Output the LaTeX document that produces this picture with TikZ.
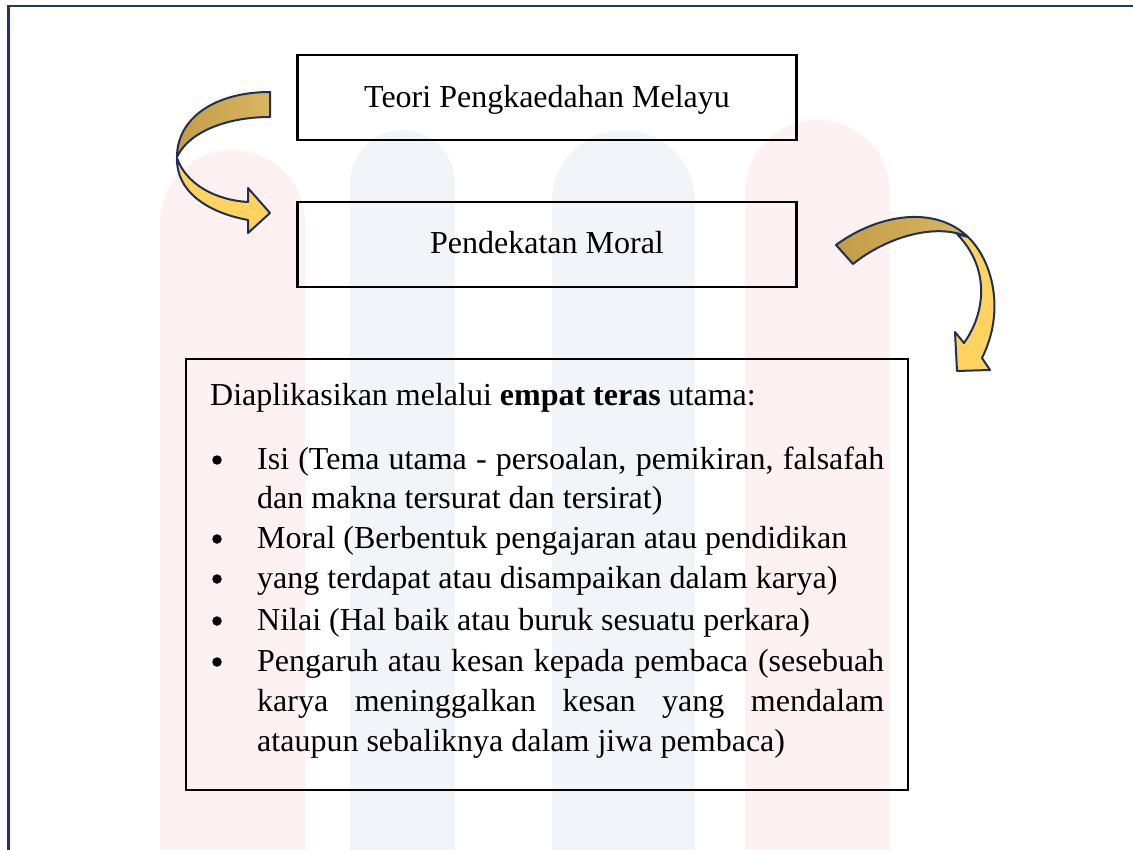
\documentclass[tikz,border=0pt]{standalone}
\usepackage{fontspec}
\setmainfont{Liberation Serif}
\definecolor{frameblue}{HTML}{1F3864}
\definecolor{arrowline}{HTML}{1F2F55}
\definecolor{goldlight}{HTML}{FFD35E}
\definecolor{golddark}{HTML}{C49C48}
\definecolor{golddarkB}{HTML}{D8B65F}
\definecolor{wmpink}{HTML}{FDF1F2}
\definecolor{wmblue}{HTML}{F1F5F9}
\begin{document}
\begin{tikzpicture}[x=1pt,y=-1pt,
  box/.style={draw=black, line width=2.2pt, inner sep=0pt},
  txt/.style={inner sep=0pt, font=\fontsize{32}{40}\selectfont},
  dot/.style={circle, fill=black, inner sep=0pt, minimum size=9.5pt},
  arrline/.style={draw=arrowline, line width=2pt, line join=round}]
\useasboundingbox (0,0) rectangle (1133,850);
% watermark
\fill[wmpink] (160,850) -- (160,222.5) arc[start angle=180,end angle=360,radius=72.5] -- (305,850) -- cycle;
\fill[wmpink] (745,850) -- (745,192.5) arc[start angle=180,end angle=360,radius=72.5] -- (890,850) -- cycle;
\fill[wmblue] (350,850) -- (350,182.5) arc[start angle=180,end angle=360,radius=52.5] -- (455,850) -- cycle;
\fill[wmblue] (552,850) -- (552,201.5) arc[start angle=180,end angle=360,radius=71.5] -- (695,850) -- cycle;
% outer frame
\draw[frameblue, line width=2.6pt] (8.7,850) -- (8.7,6.2) -- (1133,6.2);
% boxes
\node[box, minimum width=499pt, minimum height=85pt] (b1) at (547,97.5) {};
\node[box, minimum width=499pt, minimum height=85pt] (b2) at (547,244.5) {};
\node[box, minimum width=722pt, minimum height=431pt] (b3) at (547,574.5) {};
\node[txt, anchor=base] (t1) at (547,108) {Teori Pengkaedahan Melayu};
\node[txt, anchor=base] (t2) at (547,254) {Pendekatan Moral};
\node[txt, anchor=base west] (h) at (210,405) {Diaplikasikan melalui \textbf{empat teras} utama:};
% list
\node[txt, anchor=base west] (l1) at (257,469) {\makebox[627pt][s]{Isi (Tema utama - persoalan, pemikiran, falsafah}};
\node[txt, anchor=base west] (l2) at (257,508) {dan makna tersurat dan tersirat)};
\node[txt, anchor=base west] (l3) at (257,548) {Moral (Berbentuk pengajaran atau pendidikan};
\node[txt, anchor=base west] (l4) at (257,588) {yang terdapat atau disampaikan dalam karya)};
\node[txt, anchor=base west] (l5) at (257,630) {Nilai (Hal baik atau buruk sesuatu perkara)};
\node[txt, anchor=base west] (l6) at (257,671) {\makebox[627pt][s]{Pengaruh atau kesan kepada pembaca (sesebuah}};
\node[txt, anchor=base west] (l7) at (257,711) {\makebox[627pt][s]{karya meninggalkan kesan yang mendalam}};
\node[txt, anchor=base west] (l8) at (257,751) {ataupun sebaliknya dalam jiwa pembaca)};
\node[dot] (d1) at (217,460) {};
\node[dot] (d3) at (217,539) {};
\node[dot] (d4) at (217,579) {};
\node[dot] (d5) at (217,621) {};
\node[dot] (d6) at (217,662) {};
% left curved arrow
\path[arrline, fill=goldlight] (177,158) .. controls (176,190) and (205,212) .. (248,220) -- (248,233) -- (270,213) -- (248,188) -- (248,202) .. controls (215,200) and (186,184) .. (177,158) -- cycle;
\path[arrline, left color=golddark, right color=golddarkB] (270,92) .. controls (215,92) and (177,118) .. (177,157) .. controls (188,133) and (225,117) .. (270,117) -- cycle;
% right curved arrow
\path[arrline, fill=goldlight] (968,237) .. controls (992,260) and (1006,310) .. (982,358) -- (990,370) -- (957,371) -- (955,332) -- (964,343) .. controls (986,312) and (990,268) .. (957,234) -- cycle;
\path[arrline, left color=golddark, right color=golddarkB] (836,245) .. controls (878,214) and (935,205) .. (968,237) .. controls (935,222) and (885,238) .. (853,264) -- cycle;
\end{tikzpicture}
\end{document}
